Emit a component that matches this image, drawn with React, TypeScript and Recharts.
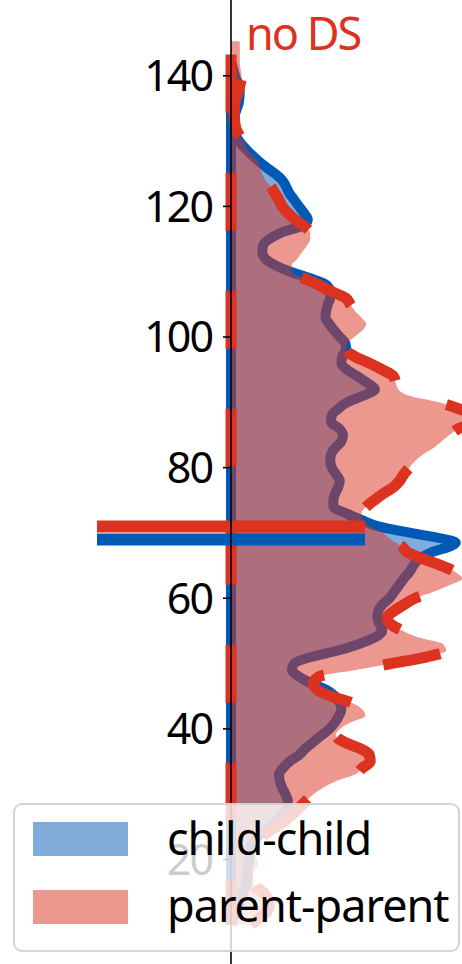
import React from 'react';
import { ComposedChart, Area, Line, XAxis, YAxis, ReferenceLine, Legend } from 'recharts';

const BLUE = '#005AB5';
const RED = '#DC3220';
const FONT = "'Noto Sans', sans-serif";

// y values of the KDE grid (top to bottom)
const yValues = [
  145.3, 144, 142, 140, 138, 136, 134, 132, 130, 128, 127, 126, 125, 124, 123, 122, 121, 120, 119, 118,
  117, 116, 115, 114, 113, 112, 111, 110, 109, 108, 107, 106, 105, 104, 103, 102, 101, 100, 99, 98,
  97, 96, 95, 94, 93, 92, 91, 90, 89, 88, 87, 86, 85, 84, 83, 82, 81, 80, 79, 78,
  77, 76, 75, 74, 73, 72, 71, 70, 69, 68.5, 68, 67, 66, 65, 64, 63, 62, 61, 60, 59,
  58, 57, 56, 55, 54, 53, 52, 51, 50, 49, 48, 47, 46, 45, 44, 43, 42, 41, 40, 39,
  38, 37, 36, 35, 34, 33, 32, 31, 30, 29, 28, 27, 26, 25, 24, 23, 22, 21, 20, 19,
  18, 17, 16, 15, 14, 13, 12, 11, 10,
];

// density x 1e-3
const childChildDensity = [
  null, null, 0.1, 0.5, 1.1, 1.0, 0.5, 0.4, 1.0, 2.5, 3.4, 4.4, 5.5, 6.4, 6.9, 7.3, 7.9, 8.5, 9.1, 9.6,
  8.8, 6.3, 4.8, 4.0, 3.9, 4.3, 5.5, 7.4, 9.9, 11.9, 12.4, 12.4, 12.1, 11.9, 11.8, 12.3, 12.9, 13.6, 14.3, 14.4,
  13.9, 13.8, 14.5, 15.8, 17.0, 18.0, 16.5, 14.5, 13.4, 12.6, 12.5, 13.5, 14.0, 13.8, 13.0, 12.5, 12.4, 12.6, 13.1, 13.6,
  13.4, 13.0, 12.8, 12.8, 14.4, 16.3, 18.4, 22.5, 26.9, 28.1, 27.5, 25.0, 23.5, 22.8, 22.3, 21.6, 21.0, 20.4, 19.8, 18.9,
  18.4, 18.3, 18.6, 18.9, 18.0, 16.0, 13.4, 10.0, 7.9, 7.6, 8.5, 10.0, 11.9, 13.0, 13.6, 13.8, 13.5, 13.0, 12.3, 11.3,
  10.3, 9.3, 8.5, 7.3, 6.5, 6.0, 6.1, 6.4, 6.8, 7.1, 7.0, 6.5, 5.8, 4.8, 3.8, 3.0, 2.5, 2.4, 2.3, 2.1,
  2.1, 2.0, 1.9, 1.5, 1.3, 1.0, 0.6, 0.3, 0,
];

const parentParentDensity = [
  1.1, 1.1, 1.1, 1.3, 1.0, 0.5, 0.4, 0.6, 1.5, 2.5, 3.3, 3.6, 3.9, 4.3, 5.0, 5.5, 6.0, 6.4, 7.1, 8.0,
  9.1, 9.9, 9.9, 9.5, 8.9, 8.3, 7.6, 7.6, 9.1, 10.9, 12.5, 14.3, 14.9, 15.5, 16.3, 16.9, 16.4, 15.4, 14.5, 14.4,
  15.5, 17.3, 18.9, 20.3, 20.6, 20.9, 22.3, 26.0, 28.5, 30.3, 30.4, 28.5, 27.3, 26.3, 25.3, 24.0, 23.0, 22.3, 21.6, 21.1,
  20.3, 19.0, 17.9, 16.9, 16.3, 16.5, 17.5, 19.0, 20.0, 20.6, 21.3, 22.1, 24.1, 26.3, 28.1, 28.9, 27.3, 25.3, 23.0, 21.6,
  20.3, 19.5, 20.0, 21.5, 23.5, 26.5, 26.9, 24.4, 20.0, 15.6, 11.0, 10.3, 10.8, 12.5, 15.1, 16.4, 16.8, 15.0, 13.6, 13.1,
  14.1, 16.1, 17.3, 17.4, 16.4, 15.5, 13.1, 11.5, 10.3, 9.4, 8.6, 7.8, 6.8, 5.6, 4.4, 3.4, 2.6, 2.5, 3.3, 3.4,
  2.8, 2.8, 3.0, 4.0, 4.6, 4.8, 4.5, 3.5, 2.5,
];

const yTicks = [20, 40, 60, 80, 100, 120, 140];
const seriesNames = ['child-child', 'parent-parent'];
const seriesColors = [BLUE, RED];
const meanChild = 69;
const meanParent = 71;
const meanHalfWidth = 16.75;
const kdeTop = 143.2;
const kdeBottom = 10;
const panelTitle = 'no DS';

const data = yValues.map((y, i) => ({
  y,
  child: childChildDensity[i],
  parent: parentParentDensity[i],
}));

const renderLegend = () => (
  <div
    style={{
      boxSizing: 'border-box',
      position: 'relative',
      width: 447,
      height: 149,
      border: '2px solid rgba(204,204,204,0.85)',
      borderRadius: 9,
      background: 'rgba(255,255,255,0.8)',
      fontFamily: FONT,
    }}
  >
    {seriesNames.map((name, i) => (
      <React.Fragment key={name}>
        <div
          style={{
            position: 'absolute',
            left: 18,
            top: 17 + i * 68,
            width: 95,
            height: 34,
            background: seriesColors[i],
            opacity: 0.5,
          }}
        />
        <div
          style={{
            position: 'absolute',
            left: 152,
            top: 10 + i * 67,
            fontSize: 45,
            lineHeight: '45px',
            letterSpacing: -1,
            color: '#000',
            whiteSpace: 'nowrap',
          }}
        >
          {name}
        </div>
      </React.Fragment>
    ))}
  </div>
);

export default function App() {
  return (
    <div
      style={{
        position: 'fixed',
        left: 0,
        top: 0,
        width: 462,
        height: 964,
        overflow: 'hidden',
        background: '#fff',
      }}
    >
      <ComposedChart
        width={551}
        height={964}
        data={data}
        layout="vertical"
        margin={{ top: 0, right: 0, bottom: 0, left: 0 }}
      >
        <XAxis type="number" domain={[0, 40]} hide />
        <YAxis
          type="number"
          dataKey="y"
          domain={[4, 151.6]}
          reversed
          ticks={yTicks}
          interval={0}
          width={231}
          tickSize={8}
          tickMargin={11}
          axisLine={{ stroke: '#000', strokeWidth: 1.6 }}
          tickLine={{ stroke: '#000', strokeWidth: 1.6 }}
          tick={{ fontSize: 43, fill: '#000', fontFamily: FONT, letterSpacing: -2 }}
        />

        <Area
          dataKey="child"
          type="monotone"
          fill={BLUE}
          fillOpacity={0.5}
          stroke="none"
          isAnimationActive={false}
          zIndex={100}
        />
        <ReferenceLine
          segment={[{ x: 0, y: kdeTop }, { x: 0, y: kdeBottom }]}
          stroke={BLUE}
          strokeWidth={10}
          ifOverflow="visible"
          zIndex={101}
        />
        <Line
          dataKey="child"
          type="monotone"
          stroke={BLUE}
          strokeWidth={10}
          strokeLinejoin="round"
          dot={false}
          activeDot={false}
          isAnimationActive={false}
          zIndex={102}
        />

        <Area
          dataKey="parent"
          type="monotone"
          fill={RED}
          fillOpacity={0.5}
          stroke="none"
          isAnimationActive={false}
          zIndex={103}
        />
        <ReferenceLine
          segment={[{ x: 0, y: kdeTop }, { x: 0, y: kdeBottom }]}
          stroke={RED}
          strokeWidth={11}
          strokeDasharray="58 60"
          ifOverflow="visible"
          zIndex={104}
        />
        <Line
          dataKey="parent"
          type="monotone"
          stroke={RED}
          strokeWidth={11}
          strokeDasharray="58 60"
          strokeDashoffset={79}
          strokeLinejoin="round"
          dot={false}
          activeDot={false}
          isAnimationActive={false}
          zIndex={105}
        />

        <ReferenceLine
          segment={[{ x: -meanHalfWidth, y: meanParent }, { x: meanHalfWidth, y: meanParent }]}
          stroke={RED}
          strokeWidth={12}
          ifOverflow="visible"
          zIndex={106}
        />
        <ReferenceLine
          segment={[{ x: -meanHalfWidth, y: meanChild }, { x: meanHalfWidth, y: meanChild }]}
          stroke={BLUE}
          strokeWidth={12}
          ifOverflow="visible"
          zIndex={107}
        />

        <Legend
          layout="horizontal"
          verticalAlign="middle"
          align="center"
          content={renderLegend}
          wrapperStyle={{ left: 13, top: 803, width: 447, height: 149 }}
        />
      </ComposedChart>
      <div
        style={{
          position: 'absolute',
          left: 246,
          top: 10,
          fontFamily: FONT,
          fontSize: 45,
          lineHeight: '45px',
          letterSpacing: -2,
          color: RED,
          whiteSpace: 'nowrap',
        }}
      >
        {panelTitle}
      </div>
    </div>
  );
}
